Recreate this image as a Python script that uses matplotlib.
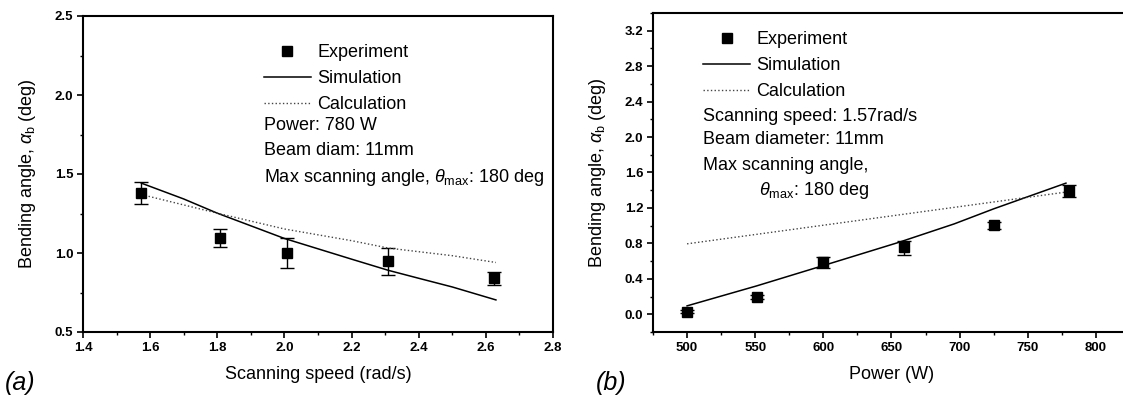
import matplotlib
matplotlib.use("Agg")
import matplotlib.pyplot as plt
from matplotlib.ticker import MultipleLocator
import numpy as np

plt.rcParams['font.family'] = ['Liberation Sans', 'DejaVu Sans']
plt.rcParams['mathtext.fontset'] = 'custom'
plt.rcParams['mathtext.rm'] = 'Liberation Sans'
plt.rcParams['mathtext.it'] = 'Liberation Sans:italic'

# (a) bending angle vs scanning speed
speed_exp = [1.574, 1.808, 2.007, 2.308, 2.625]
angle_exp_a = [1.38, 1.097, 1.002, 0.951, 0.839]
err_lo_a = [0.07, 0.057, 0.098, 0.091, 0.043]
err_hi_a = [0.068, 0.053, 0.093, 0.080, 0.038]

speed_sim = [1.574, 1.7, 1.8, 2.0, 2.2, 2.31, 2.4, 2.5, 2.63]
angle_sim_a = [1.442, 1.342, 1.252, 1.092, 0.961, 0.89, 0.84, 0.785, 0.703]

speed_calc = [1.574, 1.8, 2.0, 2.2, 2.31, 2.5, 2.63]
angle_calc_a = [1.37, 1.252, 1.152, 1.078, 1.031, 0.983, 0.94]

# (b) bending angle vs power
power_exp = [500, 551, 600, 659, 725, 780]
angle_exp_b = [0.03, 0.197, 0.587, 0.758, 1.004, 1.39]
err_lo_b = [0.02, 0.02, 0.065, 0.09, 0.04, 0.07]
err_hi_b = [0.02, 0.02, 0.065, 0.07, 0.04, 0.07]

power_sim = [500, 551, 600, 655, 696, 725, 778]
angle_sim_b = [0.095, 0.32, 0.55, 0.81, 1.02, 1.19, 1.48]

power_calc = [500, 780]
angle_calc_b = [0.795, 1.383]

fs = 13
fig = plt.figure(figsize=(11.23, 3.98), dpi=100)
ax1 = fig.add_axes([83/1123, 1-332/398, 470/1123, 316/398])
ax2 = fig.add_axes([653/1123, 1-332/398, 477/1123, 319/398])


def style(ax, xt, yt):
    for s in ax.spines.values():
        s.set_linewidth(1.5)
    ax.set_xticks(xt)
    ax.set_yticks(yt)
    ax.set_xticklabels([f'{v:g}' if v >= 100 else f'{v:.1f}' for v in xt], fontweight='bold', fontsize=9.5)
    ax.set_yticklabels([f'{v:.1f}' for v in yt], fontweight='bold', fontsize=9.5)
    ax.tick_params(which='major', direction='out', length=4, width=1.2, pad=3)
    ax.tick_params(which='minor', direction='out', length=2.5, width=1)


def draw(ax, xe, ye, elo, ehi, xs, ys, xc, yc):
    e = ax.errorbar(xe, ye, yerr=[elo, ehi], fmt='s', color='black', ms=6.5,
                    capsize=5, elinewidth=1, capthick=1)
    s, = ax.plot(xs, ys, '-', color='black', lw=1.1)
    c, = ax.plot(xc, yc, ':', color='#444444', lw=1.0)
    return [e[0], s, c]


labels = ['Experiment', 'Simulation', 'Calculation']
leg_kw = dict(loc='upper left', frameon=False, fontsize=fs, handlelength=2.6,
              handletextpad=0.35, labelspacing=0.5, borderpad=0, borderaxespad=0)

h1 = draw(ax1, speed_exp, angle_exp_a, err_lo_a, err_hi_a, speed_sim, angle_sim_a, speed_calc, angle_calc_a)
ax1.set_xlim(1.4, 2.8)
ax1.set_ylim(0.5, 2.5)
style(ax1, np.arange(1.4, 2.81, 0.2), np.arange(0.5, 2.51, 0.5))
ax1.xaxis.set_minor_locator(MultipleLocator(0.1))
ax1.yaxis.set_minor_locator(MultipleLocator(0.25))
ax1.set_xlabel('Scanning speed (rad/s)', fontsize=fs, labelpad=9)
ax1.set_ylabel(r'Bending angle, $\alpha_{\rm b}$ (deg)', fontsize=fs, labelpad=12)
ax1.legend(h1, labels, bbox_to_anchor=(0.385, 0.91), **leg_kw)
ax1.text(0.385, 0.652, 'Power: 780 W', transform=ax1.transAxes, fontsize=fs, va='center')
ax1.text(0.385, 0.573, 'Beam diam: 11mm', transform=ax1.transAxes, fontsize=fs, va='center')
ax1.text(0.385, 0.490, r'Max scanning angle, $\theta_{\rm max}$: 180 deg', transform=ax1.transAxes,
         fontsize=fs, va='center')

h2 = draw(ax2, power_exp, angle_exp_b, err_lo_b, err_hi_b, power_sim, angle_sim_b, power_calc, angle_calc_b)
ax2.set_xlim(475, 825)
ax2.set_ylim(-0.2, 3.4)
style(ax2, np.arange(500, 801, 50), np.arange(0, 3.3, 0.4))
ax2.xaxis.set_minor_locator(MultipleLocator(25))
ax2.yaxis.set_minor_locator(MultipleLocator(0.2))
ax2.spines['right'].set_visible(False)
ax2.set_xlabel('Power (W)', fontsize=fs, labelpad=9)
ax2.set_ylabel(r'Bending angle, $\alpha_{\rm b}$ (deg)', fontsize=fs, labelpad=12)
ax2.legend(h2, labels, bbox_to_anchor=(0.105, 0.944), **leg_kw)
ax2.text(0.105, 0.677, 'Scanning speed: 1.57rad/s', transform=ax2.transAxes, fontsize=fs, va='center')
ax2.text(0.105, 0.602, 'Beam diameter: 11mm', transform=ax2.transAxes, fontsize=fs, va='center')
ax2.text(0.105, 0.522, 'Max scanning angle,', transform=ax2.transAxes, fontsize=fs, va='center')
ax2.text(0.222, 0.445, r'$\theta_{\rm max}$: 180 deg', transform=ax2.transAxes, fontsize=fs, va='center')

fig.text(5/1123, 1-383/398, '(a)', fontsize=18, style='italic', va='center')
fig.text(596/1123, 1-383/398, '(b)', fontsize=18, style='italic', va='center')

fig.savefig('out.png', dpi=100)
